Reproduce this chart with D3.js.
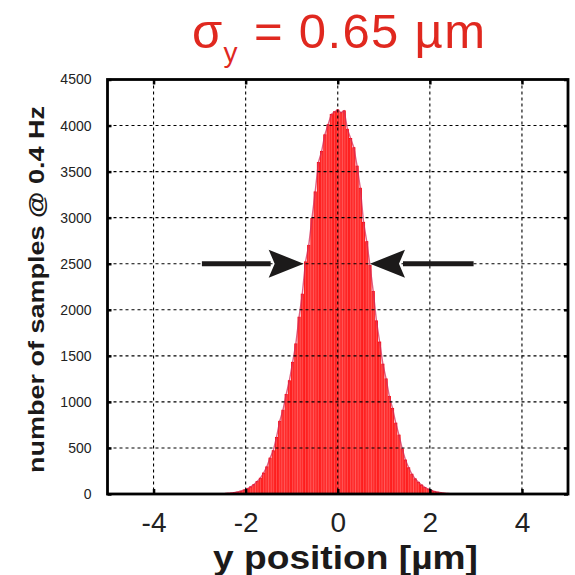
<!DOCTYPE html>
<html>
<head>
<meta charset="utf-8">
<script src="https://cdn.jsdelivr.net/npm/d3@7/dist/d3.min.js"></script>
<style>
  html, body { margin: 0; padding: 0; background: #fff; }
  svg { display: block; }
</style>
</head>
<body>
<svg id="chart" width="575" height="575"></svg>
<script>
// Histogram of vertical beam position samples (bin width 0.07 µm)
const binWidth = 0.07;
const binCenters = d3.range(-40, 41).map(k => +(k * binWidth).toFixed(2));
const counts = [
  0, 1, 1, 2, 3, 5, 8, 11, 16, 22,
  32, 44, 58, 78, 102, 135, 172, 228, 295, 390,
  470, 615, 790, 910, 1080, 1230, 1430, 1630, 1920, 2170,
  2520, 2700, 2990, 3280, 3600, 3720, 3900, 4010, 4120, 4150,
  4170,
  4140, 4160, 3960, 3860, 3760, 3560, 3320, 2950, 2740, 2480,
  2200, 1880, 1650, 1410, 1250, 1060, 930, 770, 640, 490,
  370, 285, 215, 165, 128, 98, 72, 54, 40, 29,
  21, 14, 10, 7, 4, 3, 2, 1, 1, 0
];
const xTicks = [-4, -2, 0, 2, 4];
const yTicks = [0, 500, 1000, 1500, 2000, 2500, 3000, 3500, 4000, 4500];
const fwhmLevel = 2500;          // level where the width arrows sit
const arrowLeft = [-2.95, -0.74];
const arrowRight = [2.95, 0.70];

const svg = d3.select("#chart");
const plotL = 107.5, plotR = 568, plotT = 79.5, plotB = 494;

const x = d3.scaleLinear().domain([-5, 5]).range([plotL, plotR]);
const y = d3.scaleLinear().domain([0, 4500]).range([plotB, plotT]);

// bars: red outline, lighter core, thin white gap between neighbours
const pxW = x(binWidth) - x(0);
const bars = svg.append("g");
binCenters.forEach((c, i) => {
  if (counts[i] <= 0) return;
  bars.append("rect")
    .attr("x", x(c) - pxW / 2 + 0.5)
    .attr("y", y(counts[i]))
    .attr("width", pxW - 1.0)
    .attr("height", y(0) - y(counts[i]))
    .attr("fill", "#ff4848")
    .attr("stroke", "#ff0000")
    .attr("stroke-width", 0.8);
});

// outline through the bar tops
svg.append("path")
  .datum(binCenters.map((c, i) => [c, counts[i]]))
  .attr("fill", "none")
  .attr("stroke", "#d42a55")
  .attr("stroke-opacity", 0.75)
  .attr("stroke-width", 1.4)
  .attr("d", d3.line().x(d => x(d[0])).y(d => y(d[1])));

// dashed grid
const grid = svg.append("g")
  .attr("stroke", "#000")
  .attr("stroke-width", 1.1)
  .attr("stroke-dasharray", "3,3");
xTicks.forEach(t => grid.append("line")
  .attr("x1", x(t)).attr("x2", x(t)).attr("y1", plotT).attr("y2", plotB));
yTicks.filter(t => t > 0 && t < 4500).forEach(t => grid.append("line")
  .attr("x1", plotL).attr("x2", plotR).attr("y1", y(t)).attr("y2", y(t)));

// axes with inward ticks
const axB = svg.append("g").attr("transform", `translate(0,${plotB})`)
  .call(d3.axisBottom(x).tickValues(xTicks).tickSizeInner(-5).tickSizeOuter(0).tickPadding(18)
    .tickFormat(d => d === 0 ? "0" : (d < 0 ? "-" + Math.abs(d) : String(d))));
axB.select(".domain").remove();
axB.selectAll(".tick line").attr("stroke", "#000").attr("stroke-width", 2.5);
axB.selectAll(".tick text").attr("font-family", "Liberation Sans, Arial, sans-serif")
  .attr("font-size", 28).attr("fill", "#222").attr("dy", "0.71em");

const axT = svg.append("g").attr("transform", `translate(0,${plotT})`)
  .call(d3.axisTop(x).tickValues(xTicks).tickSizeInner(-5).tickSizeOuter(0).tickFormat(""));
axT.select(".domain").remove();
axT.selectAll(".tick line").attr("stroke", "#000").attr("stroke-width", 2.5);

const axL = svg.append("g").attr("transform", `translate(${plotL},0)`)
  .call(d3.axisLeft(y).tickValues(yTicks).tickSizeInner(-4).tickSizeOuter(0).tickPadding(16)
    .tickFormat(d3.format("d")));
axL.select(".domain").remove();
axL.selectAll(".tick line").attr("stroke", "#000").attr("stroke-width", 2.5);
axL.selectAll(".tick text").attr("font-family", "Liberation Sans, Arial, sans-serif")
  .attr("font-size", 14).attr("fill", "#222");

const axR = svg.append("g").attr("transform", `translate(${plotR},0)`)
  .call(d3.axisRight(y).tickValues(yTicks).tickSizeInner(-4).tickSizeOuter(0).tickFormat(""));
axR.select(".domain").remove();
axR.selectAll(".tick line").attr("stroke", "#000").attr("stroke-width", 2.5);

// frame
svg.append("rect")
  .attr("x", plotL).attr("y", plotT)
  .attr("width", plotR - plotL).attr("height", plotB - plotT)
  .attr("fill", "none").attr("stroke", "#000").attr("stroke-width", 2.8);

// width arrows
function arrow(x0, x1) {
  const dir = Math.sign(x(x1) - x(x0));
  const tipX = x(x1), yy = y(fwhmLevel);
  const headLen = 35, headHalf = 14;
  svg.append("line")
    .attr("x1", x(x0)).attr("x2", tipX - dir * headLen + dir * 2)
    .attr("y1", yy).attr("y2", yy)
    .attr("stroke", "#1c1a1a").attr("stroke-width", 5);
  svg.append("path")
    .attr("d", `M${tipX},${yy} L${tipX - dir * headLen},${yy - headHalf} L${tipX - dir * (headLen - 6)},${yy} L${tipX - dir * headLen},${yy + headHalf} Z`)
    .attr("fill", "#1c1a1a");
}
arrow(arrowLeft[0], arrowLeft[1]);
arrow(arrowRight[0], arrowRight[1]);

// title
const title = svg.append("text")
  .attr("x", 192).attr("y", 48)
  .attr("font-family", "Liberation Sans, Arial, sans-serif")
  .attr("font-size", 49)
  .attr("fill", "#e0281f");
title.append("tspan").text("σ");
title.append("tspan").attr("font-size", 28).attr("dy", 14).text("y");
title.append("tspan").attr("dy", -14).text(" = 0.65 µm");
const tw = title.node().getComputedTextLength();
title.attr("textLength", 293).attr("lengthAdjust", "spacing");
if (tw > 293) title.attr("lengthAdjust", "spacingAndGlyphs");

// axis titles
svg.append("text")
  .attr("x", 213).attr("y", 569)
  .attr("font-family", "Liberation Sans, Arial, sans-serif")
  .attr("font-weight", "bold")
  .attr("font-size", 33)
  .attr("fill", "#1c1a1a")
  .attr("textLength", 265)
  .attr("lengthAdjust", "spacingAndGlyphs")
  .text("y position [µm]");

svg.append("text")
  .attr("transform", "translate(44,473) rotate(-90)")
  .attr("font-family", "Liberation Sans, Arial, sans-serif")
  .attr("font-weight", "bold")
  .attr("font-size", 22)
  .attr("fill", "#1c1a1a")
  .attr("textLength", 367)
  .attr("lengthAdjust", "spacingAndGlyphs")
  .text("number of samples @ 0.4 Hz");
</script>
</body>
</html>
